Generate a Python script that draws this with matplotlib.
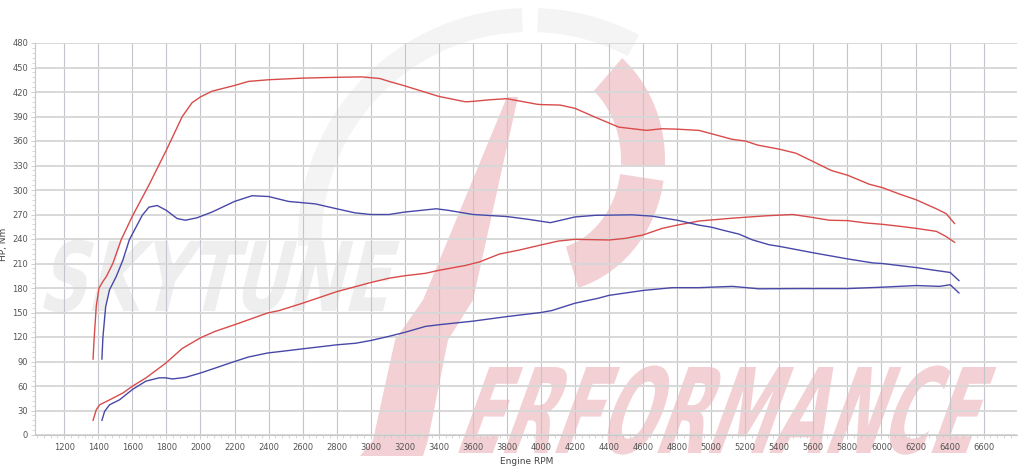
import numpy as np
import matplotlib
matplotlib.use("Agg")
import matplotlib.pyplot as plt
from matplotlib import patheffects
from matplotlib.transforms import Affine2D
from matplotlib.patches import Polygon
from matplotlib.ticker import MultipleLocator

# ---------------- data ----------------
rpm_tq_tuned = [1369, 1375, 1388, 1404, 1427, 1447, 1485, 1534, 1600, 1697, 1800, 1893, 1951,
                2000, 2068, 2200, 2283, 2400, 2600, 2800, 2947, 3054, 3107, 3200, 3400, 3556,
                3600, 3700, 3800, 3977, 4000, 4113, 4200, 4320, 4457, 4620, 4710, 4800, 4927,
                5000, 5124, 5200, 5272, 5400, 5498, 5602, 5704, 5802, 5929, 6004, 6106, 6204,
                6322, 6380, 6429]
tq_tuned = [93, 117, 158, 180, 188, 194, 210, 239, 268, 306, 349, 390, 407,
            414, 421, 428, 433, 435, 437, 438, 438.5, 436.5, 433, 427.5, 414.6, 408,
            408.5, 410.5, 411.8, 405, 404.6, 404, 400, 389, 377, 373, 375, 374.5, 373,
            369, 362, 360, 355, 350, 345, 334.5, 324, 318, 307, 303, 295, 288,
            277, 271, 259]

rpm_tq_stock = [1421, 1427, 1443, 1466, 1505, 1544, 1582, 1658, 1697, 1746, 1800, 1863, 1912,
                1980, 2068, 2200, 2303, 2400, 2517, 2674, 2800, 2908, 3000, 3107, 3200, 3385,
                3459, 3600, 3800, 3928, 4055, 4200, 4320, 4535, 4652, 4800, 4927, 5000, 5084,
                5163, 5241, 5339, 5400, 5602, 5802, 5949, 6004, 6204, 6302, 6404, 6455]
tq_stock = [93, 120, 157, 178, 194, 214, 239, 269, 279, 281, 275, 265, 263,
            266, 273, 286, 293, 292, 286, 283, 277, 272, 270, 270, 273, 277,
            275, 270, 267.5, 264, 260, 267, 269, 269.6, 268, 263, 257, 254.5, 250,
            246, 239, 233, 231, 223, 215.6, 210.7, 210, 205, 202, 199, 189]

rpm_hp_tuned = [1369, 1388, 1408, 1466, 1544, 1602, 1680, 1796, 1893, 2000, 2087, 2200, 2301,
                2394, 2463, 2600, 2800, 3000, 3107, 3200, 3322, 3400, 3556, 3640, 3756, 3873,
                4000, 4103, 4200, 4400, 4497, 4600, 4712, 4800, 4927, 5124, 5322, 5478, 5576,
                5694, 5802, 5910, 6004, 6106, 6204, 6322, 6380, 6429]
hp_tuned = [18, 31, 37, 43, 51.4, 60, 70, 88, 106, 119, 127, 135, 142.5,
            149.4, 152.4, 161.4, 175.5, 186.7, 192, 195, 198, 201.6, 207.6, 212, 221.6, 226.5,
            232.7, 237.5, 239.6, 238.8, 240.8, 245, 253, 257, 262, 265.5, 268.4, 270, 267,
            263, 262.5, 259.6, 258, 255.6, 253, 249.4, 243, 236]

rpm_hp_stock = [1421, 1437, 1466, 1524, 1602, 1680, 1757, 1796, 1835, 1913, 2000, 2087, 2200,
                2282, 2394, 2476, 2600, 2800, 2913, 3000, 3107, 3200, 3322, 3400, 3600, 3800,
                4000, 4064, 4200, 4337, 4400, 4600, 4771, 4927, 5124, 5280, 5516, 5802, 6004,
                6204, 6341, 6404, 6455]
hp_stock = [18, 29, 37, 43, 56, 66, 70, 70, 68.6, 70.6, 75.9, 82, 90,
            95.5, 100.4, 102.4, 105.5, 110.4, 112.4, 115.7, 120.8, 125.7, 133, 135, 139.4, 145,
            150, 152.4, 161.4, 167.5, 171, 177, 180.4, 180.4, 182, 179, 179.3, 179.3, 181,
            183, 182, 184, 174]

x_ticks = list(range(1200, 6601, 200))
y_ticks = list(range(0, 481, 30))
x_label = "Engine RPM"
y_label = "HP, Nm"

RED = "#d94b4b"
BLUE = "#4848a8"
PINK = "#f3d0d3"
LGRAY = "#eeeeee"
SWOOSH = "#f4f4f4"

W, H = 1024, 475
fig = plt.figure(figsize=(W / 100, H / 100), dpi=100)
fig.patch.set_facecolor("white")

# ---------------- watermark background (pixel coordinates) ----------------
bg = fig.add_axes([0, 0, 1, 1], zorder=0)
bg.set_xlim(0, W)
bg.set_ylim(H, 0)
bg.axis("off")


def ring(cx, cy, ro_x, ro_y, ri_x, ri_y, t1, t2, color):
    t = np.radians(np.linspace(t1, t2, 80))
    outer = np.column_stack([cx + ro_x * np.cos(t), cy - ro_y * np.sin(t)])
    inner = np.column_stack([cx + ri_x * np.cos(t[::-1]), cy - ri_y * np.sin(t[::-1])])
    bg.add_patch(Polygon(np.vstack([outer, inner]), closed=True, fc=color, ec="none"))


# light gray swoosh
ring(530, 238, 232, 230, 208, 206, 92, 182, SWOOSH)
ring(530, 238, 232, 230, 208, 206, 62, 88, SWOOSH)
# pink "P" bowl
ring(545, 160, 120, 133, 76, 90, -3, 50, PINK)
ring(545, 160, 120, 133, 76, 90, -74, -9, PINK)
# pink slanted stem
bg.add_patch(Polygon([(507, 97), (518, 97), (473, 300), (448, 340), (428, 440), (423, 456),
                      (360, 456), (373, 440), (395, 340), (423, 300)],
                     closed=True, fc=PINK, ec="none"))


class Stretch(patheffects.AbstractPathEffect):
    def __init__(self, sy=1.0, slant=0.0):
        super().__init__()
        self.sy = sy
        self.slant = slant

    def draw_path(self, renderer, gc, tpath, affine, rgbFace=None):
        x0, y0 = affine.transform((0, 0))
        t = (Affine2D().translate(-x0, -y0).scale(1.0, self.sy)
             .skew_deg(self.slant, 0).translate(x0, y0))
        renderer.draw_path(gc, tpath, affine + t, rgbFace)


def wm_text(s, x_left, x_right, y_base, cap_h, slant, color):
    target = (x_right - x_left) - np.tan(np.radians(slant)) * cap_h
    fs0 = 40
    t = bg.text(x_left, y_base, s, fontsize=fs0, fontweight="bold", color=color,
                ha="left", va="baseline", family="DejaVu Sans")
    fig.canvas.draw()
    bb = t.get_window_extent(fig.canvas.get_renderer())
    fs = fs0 * target / bb.width
    t.set_fontsize(fs)
    natural_cap = 0.729 * fs * 100 / 72
    t.set_path_effects([Stretch(sy=cap_h / natural_cap, slant=slant)])
    return t


wm_text("SKYTUNE", 37, 405, 311, 70, 14, LGRAY)
wm_text("ERFORMANCE", 452, 1002, 453, 86, 20, PINK)

# ---------------- main chart ----------------
L, R, T, B = 35, 1017, 43, 435
ax = fig.add_axes([L / W, (H - B) / H, (R - L) / W, (B - T) / H], zorder=1)
ax.patch.set_alpha(0)

ax.plot(rpm_tq_tuned, tq_tuned, color=RED, lw=1.0)
ax.plot(rpm_hp_tuned, hp_tuned, color=RED, lw=1.0)
ax.plot(rpm_tq_stock, tq_stock, color=BLUE, lw=1.0)
ax.plot(rpm_hp_stock, hp_stock, color=BLUE, lw=1.0)

ax.set_xlim(1028, 6796)
ax.set_ylim(0, 480)
ax.set_xticks(x_ticks)
ax.set_yticks(y_ticks)
ax.xaxis.set_minor_locator(MultipleLocator(40))
ax.yaxis.set_minor_locator(MultipleLocator(6))
ax.set_axisbelow(True)
ax.yaxis.grid(True, which="major", color="#d8d8d8", lw=1.4)
ax.xaxis.grid(True, which="major", color="#c4c4cc", lw=0.8)

for s in ("top", "right"):
    ax.spines[s].set_visible(False)
for s in ("left", "bottom"):
    ax.spines[s].set_color("#c8c8c8")
    ax.spines[s].set_linewidth(0.8)

ax.tick_params(axis="both", which="major", labelsize=6, labelcolor="#555555",
               color="#c8c8c8", length=3, width=0.6)
ax.tick_params(axis="both", which="minor", color="#c8c8c8", length=2, width=0.5)
ax.tick_params(axis="y", pad=2)
ax.tick_params(axis="x", pad=3)

ax.set_xlabel(x_label, fontsize=6.5, color="#444444")
ax.set_ylabel(y_label, fontsize=6.5, color="#444444")
ax.xaxis.set_label_coords((527 - L) / (R - L), (B - 457) / (B - T))
ax.yaxis.set_label_coords((8 - L) / (R - L), (B - 244) / (B - T))

fig.savefig("out.png", dpi=100, facecolor="white")
